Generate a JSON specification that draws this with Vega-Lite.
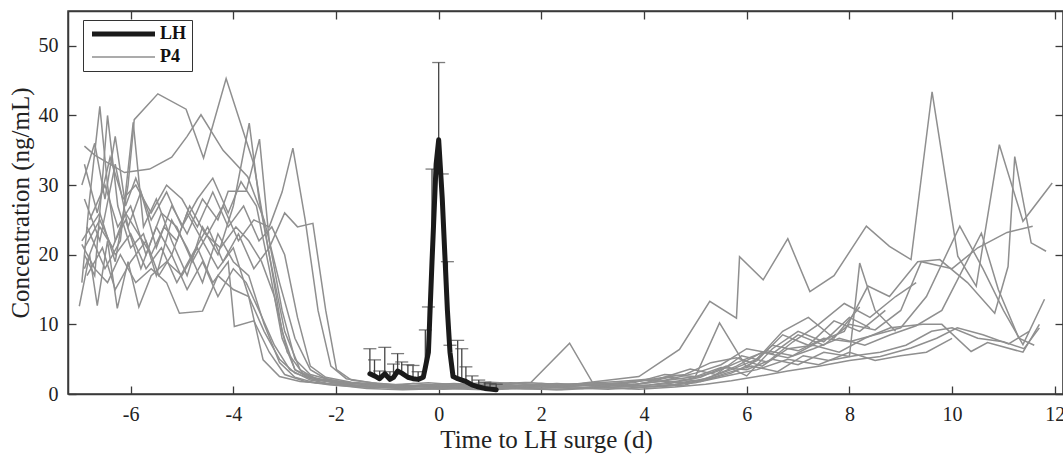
{
"$schema":"https://vega.github.io/schema/vega-lite/v6.json",
"width":995,"height":383,
"autosize":{"type":"none"},
"padding":{"left":68,"top":11,"right":0,"bottom":62},
"background":"white",
"config":{"view":{"stroke":"#3a3a3a","strokeWidth":1.5},"font":"Liberation Serif"},
"datasets":{
"lh":[
{"g":"LH","x":-1.34,"y":2.9,"up":6.5},{"g":"LH","x":-1.25,"y":2.6,"up":4.9},{"g":"LH","x":-1.15,"y":2.2,"up":3.3},{"g":"LH","x":-1.05,"y":2.9,"up":6.7},{"g":"LH","x":-0.95,"y":2.1,"up":3.2},{"g":"LH","x":-0.88,"y":2.4,"up":4.3},{"g":"LH","x":-0.8,"y":3.3,"up":5.8},{"g":"LH","x":-0.72,"y":3.0,"up":4.6},{"g":"LH","x":-0.6,"y":2.4,"up":4.2},{"g":"LH","x":-0.5,"y":2.2,"up":4.1},{"g":"LH","x":-0.4,"y":2.1,"up":3.2},{"g":"LH","x":-0.3,"y":2.4,"up":null},{"g":"LH","x":-0.26,"y":3.8,"up":9.2},{"g":"LH","x":-0.2,"y":6.0,"up":12.5},{"g":"LH","x":-0.13,"y":19,"up":32.3},{"g":"LH","x":-0.05,"y":33,"up":null},{"g":"LH","x":0,"y":36.5,"up":47.6},{"g":"LH","x":0.07,"y":28,"up":31.6},{"g":"LH","x":0.17,"y":12,"up":19.0},{"g":"LH","x":0.22,"y":6.0,"up":7.0},{"g":"LH","x":0.28,"y":2.5,"up":null},{"g":"LH","x":0.37,"y":2.2,"up":7.7},{"g":"LH","x":0.45,"y":2.0,"up":6.5},{"g":"LH","x":0.53,"y":1.8,"up":3.9},{"g":"LH","x":0.65,"y":1.3,"up":2.6},{"g":"LH","x":0.78,"y":1.0,"up":2.0},{"g":"LH","x":0.9,"y":0.8,"up":1.7},{"g":"LH","x":1.0,"y":0.7,"up":1.5},{"g":"LH","x":1.12,"y":0.6,"up":1.4}
],
"p4":[
{"g":"P4","s":"A","x":-6.95,"y":22},{"g":"P4","s":"A","x":-6.6,"y":26},{"g":"P4","s":"A","x":-6.3,"y":19},{"g":"P4","s":"A","x":-6.05,"y":30},{"g":"P4","s":"A","x":-5.93,"y":39.4},{"g":"P4","s":"A","x":-5.47,"y":43.1},{"g":"P4","s":"A","x":-4.92,"y":40.9},{"g":"P4","s":"A","x":-4.58,"y":33.9},{"g":"P4","s":"A","x":-4.14,"y":45.3},{"g":"P4","s":"A","x":-3.6,"y":33},{"g":"P4","s":"A","x":-3.3,"y":20},{"g":"P4","s":"A","x":-3.05,"y":9},{"g":"P4","s":"A","x":-2.8,"y":3.5},{"g":"P4","s":"A","x":-2.5,"y":2.2},{"g":"P4","s":"A","x":-1.6,"y":1.2},{"g":"P4","s":"A","x":-1.0,"y":1.0},{"g":"P4","s":"A","x":-0.3,"y":0.8},{"g":"P4","s":"A","x":0.5,"y":0.9},{"g":"P4","s":"A","x":1.3,"y":1.1},{"g":"P4","s":"A","x":2.0,"y":1.3},{"g":"P4","s":"A","x":2.8,"y":1.5},{"g":"P4","s":"A","x":3.5,"y":1.8},{"g":"P4","s":"A","x":4.2,"y":2.2},{"g":"P4","s":"A","x":4.8,"y":2.8},{"g":"P4","s":"A","x":5.3,"y":4.5},{"g":"P4","s":"A","x":5.8,"y":5.2},{"g":"P4","s":"A","x":6.3,"y":4},{"g":"P4","s":"A","x":6.8,"y":6.5},{"g":"P4","s":"A","x":7.3,"y":7},{"g":"P4","s":"A","x":7.8,"y":6},{"g":"P4","s":"A","x":8.3,"y":8},{"g":"P4","s":"A","x":8.8,"y":9.5},{"g":"P4","s":"A","x":9.43,"y":10},{"g":"P4","s":"A","x":9.8,"y":10},{"g":"P4","s":"A","x":10.37,"y":6.1},{"g":"P4","s":"A","x":10.69,"y":7.4},{"g":"P4","s":"A","x":11.38,"y":6.0},{"g":"P4","s":"A","x":11.7,"y":10},
{"g":"P4","s":"B","x":-6.9,"y":35.6},{"g":"P4","s":"B","x":-6.7,"y":34.3},{"g":"P4","s":"B","x":-6.12,"y":31.8},{"g":"P4","s":"B","x":-5.63,"y":32.3},{"g":"P4","s":"B","x":-5.2,"y":34},{"g":"P4","s":"B","x":-4.9,"y":37},{"g":"P4","s":"B","x":-4.63,"y":40.1},{"g":"P4","s":"B","x":-4.2,"y":35},{"g":"P4","s":"B","x":-3.72,"y":31.2},{"g":"P4","s":"B","x":-3.4,"y":25},{"g":"P4","s":"B","x":-3.1,"y":16},{"g":"P4","s":"B","x":-2.8,"y":8},{"g":"P4","s":"B","x":-2.5,"y":3.5},{"g":"P4","s":"B","x":-2.2,"y":2.2},{"g":"P4","s":"B","x":-1.8,"y":1.6},{"g":"P4","s":"B","x":-1.2,"y":1.4},{"g":"P4","s":"B","x":-0.5,"y":1.2},{"g":"P4","s":"B","x":0.3,"y":1.5},{"g":"P4","s":"B","x":1.0,"y":1.2},{"g":"P4","s":"B","x":1.8,"y":1.6},{"g":"P4","s":"B","x":2.5,"y":1.3},{"g":"P4","s":"B","x":3.2,"y":1.9},{"g":"P4","s":"B","x":3.9,"y":2.5},{"g":"P4","s":"B","x":4.69,"y":6.4},{"g":"P4","s":"B","x":5.28,"y":13.3},{"g":"P4","s":"B","x":5.8,"y":10.9},{"g":"P4","s":"B","x":5.86,"y":19.7},{"g":"P4","s":"B","x":6.32,"y":16.4},{"g":"P4","s":"B","x":6.8,"y":22.3},{"g":"P4","s":"B","x":7.23,"y":14.7},{"g":"P4","s":"B","x":7.7,"y":17},{"g":"P4","s":"B","x":8.33,"y":24.1},{"g":"P4","s":"B","x":8.78,"y":21.2},{"g":"P4","s":"B","x":9.2,"y":19.3},{"g":"P4","s":"B","x":9.61,"y":43.4},{"g":"P4","s":"B","x":10.11,"y":19.8},{"g":"P4","s":"B","x":10.47,"y":15.5},{"g":"P4","s":"B","x":10.92,"y":35.8},{"g":"P4","s":"B","x":11.38,"y":24.8},{"g":"P4","s":"B","x":11.95,"y":30.3},
{"g":"P4","s":"C","x":-6.95,"y":16},{"g":"P4","s":"C","x":-6.8,"y":28},{"g":"P4","s":"C","x":-6.6,"y":41.3},{"g":"P4","s":"C","x":-6.45,"y":30},{"g":"P4","s":"C","x":-6.3,"y":22},{"g":"P4","s":"C","x":-6.1,"y":25},{"g":"P4","s":"C","x":-5.8,"y":18},{"g":"P4","s":"C","x":-5.5,"y":24},{"g":"P4","s":"C","x":-5.2,"y":20},{"g":"P4","s":"C","x":-4.9,"y":26},{"g":"P4","s":"C","x":-4.6,"y":22},{"g":"P4","s":"C","x":-4.3,"y":18},{"g":"P4","s":"C","x":-4.0,"y":21},{"g":"P4","s":"C","x":-3.7,"y":14},{"g":"P4","s":"C","x":-3.42,"y":4.9},{"g":"P4","s":"C","x":-3.1,"y":2.5},{"g":"P4","s":"C","x":-2.7,"y":1.8},{"g":"P4","s":"C","x":-2.2,"y":1.5},{"g":"P4","s":"C","x":-1.5,"y":1.2},{"g":"P4","s":"C","x":-0.8,"y":0.9},{"g":"P4","s":"C","x":0,"y":1.2},{"g":"P4","s":"C","x":0.8,"y":1.4},{"g":"P4","s":"C","x":1.6,"y":1.2},{"g":"P4","s":"C","x":2.3,"y":1.5},{"g":"P4","s":"C","x":3.0,"y":1.2},{"g":"P4","s":"C","x":3.8,"y":1.6},{"g":"P4","s":"C","x":4.4,"y":2.8},{"g":"P4","s":"C","x":5.0,"y":2.5},{"g":"P4","s":"C","x":5.5,"y":3.8},{"g":"P4","s":"C","x":6.0,"y":3.5},{"g":"P4","s":"C","x":6.5,"y":5},{"g":"P4","s":"C","x":7.0,"y":4.2},{"g":"P4","s":"C","x":7.5,"y":6},{"g":"P4","s":"C","x":8.0,"y":5.4},{"g":"P4","s":"C","x":8.2,"y":18.8},{"g":"P4","s":"C","x":8.5,"y":12},{"g":"P4","s":"C","x":8.9,"y":9},
{"g":"P4","s":"D","x":-6.9,"y":20},{"g":"P4","s":"D","x":-6.7,"y":17},{"g":"P4","s":"D","x":-6.45,"y":40},{"g":"P4","s":"D","x":-6.25,"y":27},{"g":"P4","s":"D","x":-6.0,"y":21},{"g":"P4","s":"D","x":-5.75,"y":23},{"g":"P4","s":"D","x":-5.5,"y":17},{"g":"P4","s":"D","x":-5.2,"y":25},{"g":"P4","s":"D","x":-4.9,"y":21},{"g":"P4","s":"D","x":-4.6,"y":16},{"g":"P4","s":"D","x":-4.3,"y":23},{"g":"P4","s":"D","x":-4.0,"y":19},{"g":"P4","s":"D","x":-3.7,"y":17},{"g":"P4","s":"D","x":-3.4,"y":10},{"g":"P4","s":"D","x":-3.1,"y":4.5},{"g":"P4","s":"D","x":-2.8,"y":2.4},{"g":"P4","s":"D","x":-2.4,"y":1.6},{"g":"P4","s":"D","x":-1.9,"y":1.3},{"g":"P4","s":"D","x":-1.2,"y":0.9},{"g":"P4","s":"D","x":-0.5,"y":1.5},{"g":"P4","s":"D","x":0.3,"y":1.0},{"g":"P4","s":"D","x":1.1,"y":0.8},{"g":"P4","s":"D","x":1.9,"y":1.0},{"g":"P4","s":"D","x":2.6,"y":1.3},{"g":"P4","s":"D","x":3.4,"y":1.0},{"g":"P4","s":"D","x":4.1,"y":1.3},{"g":"P4","s":"D","x":4.8,"y":2.0},{"g":"P4","s":"D","x":5.4,"y":3.2},{"g":"P4","s":"D","x":5.9,"y":4.8},{"g":"P4","s":"D","x":6.4,"y":6.2},{"g":"P4","s":"D","x":6.9,"y":5.5},{"g":"P4","s":"D","x":7.4,"y":7.5},{"g":"P4","s":"D","x":7.9,"y":9},{"g":"P4","s":"D","x":8.36,"y":15.5},{"g":"P4","s":"D","x":8.78,"y":14},{"g":"P4","s":"D","x":9.33,"y":19},{"g":"P4","s":"D","x":9.76,"y":19.3},{"g":"P4","s":"D","x":10.3,"y":16},{"g":"P4","s":"D","x":10.83,"y":11.6},{"g":"P4","s":"D","x":11.09,"y":18.3},{"g":"P4","s":"D","x":11.22,"y":34.1},{"g":"P4","s":"D","x":11.54,"y":21.7},{"g":"P4","s":"D","x":11.83,"y":20.5},
{"g":"P4","s":"E","x":-6.85,"y":24},{"g":"P4","s":"E","x":-6.5,"y":18},{"g":"P4","s":"E","x":-6.2,"y":22},{"g":"P4","s":"E","x":-5.95,"y":39},{"g":"P4","s":"E","x":-5.75,"y":24},{"g":"P4","s":"E","x":-5.5,"y":28},{"g":"P4","s":"E","x":-5.2,"y":22},{"g":"P4","s":"E","x":-4.9,"y":17},{"g":"P4","s":"E","x":-4.6,"y":24},{"g":"P4","s":"E","x":-4.3,"y":20},{"g":"P4","s":"E","x":-4.0,"y":27},{"g":"P4","s":"E","x":-3.69,"y":38.9},{"g":"P4","s":"E","x":-3.5,"y":28},{"g":"P4","s":"E","x":-3.3,"y":20},{"g":"P4","s":"E","x":-3.0,"y":9},{"g":"P4","s":"E","x":-2.7,"y":3.5},{"g":"P4","s":"E","x":-2.4,"y":2.2},{"g":"P4","s":"E","x":-2.0,"y":1.6},{"g":"P4","s":"E","x":-1.4,"y":1.0},{"g":"P4","s":"E","x":-0.7,"y":0.8},{"g":"P4","s":"E","x":0.1,"y":0.7},{"g":"P4","s":"E","x":0.9,"y":1.0},{"g":"P4","s":"E","x":1.7,"y":0.8},{"g":"P4","s":"E","x":2.5,"y":0.9},{"g":"P4","s":"E","x":3.3,"y":0.7},{"g":"P4","s":"E","x":4.0,"y":1.0},{"g":"P4","s":"E","x":4.6,"y":1.4},{"g":"P4","s":"E","x":5.2,"y":2.0},{"g":"P4","s":"E","x":5.7,"y":3},{"g":"P4","s":"E","x":6.2,"y":4.8},{"g":"P4","s":"E","x":6.7,"y":8.5},{"g":"P4","s":"E","x":7.2,"y":7},{"g":"P4","s":"E","x":7.7,"y":10.5},{"g":"P4","s":"E","x":8.2,"y":9},{"g":"P4","s":"E","x":8.7,"y":12},
{"g":"P4","s":"F","x":-6.9,"y":28},{"g":"P4","s":"F","x":-6.6,"y":22},{"g":"P4","s":"F","x":-6.3,"y":33},{"g":"P4","s":"F","x":-6.05,"y":24},{"g":"P4","s":"F","x":-5.8,"y":29},{"g":"P4","s":"F","x":-5.5,"y":21},{"g":"P4","s":"F","x":-5.2,"y":27},{"g":"P4","s":"F","x":-4.9,"y":23},{"g":"P4","s":"F","x":-4.6,"y":28},{"g":"P4","s":"F","x":-4.3,"y":25},{"g":"P4","s":"F","x":-4.1,"y":29.1},{"g":"P4","s":"F","x":-3.75,"y":29.1},{"g":"P4","s":"F","x":-3.49,"y":36.6},{"g":"P4","s":"F","x":-3.3,"y":22},{"g":"P4","s":"F","x":-3.05,"y":12},{"g":"P4","s":"F","x":-2.8,"y":5},{"g":"P4","s":"F","x":-2.5,"y":2.8},{"g":"P4","s":"F","x":-2.1,"y":2.0},{"g":"P4","s":"F","x":-1.6,"y":1.5},{"g":"P4","s":"F","x":-1.0,"y":1.2},{"g":"P4","s":"F","x":-0.3,"y":1.0},{"g":"P4","s":"F","x":0.6,"y":1.3},{"g":"P4","s":"F","x":1.4,"y":1.6},{"g":"P4","s":"F","x":2.1,"y":1.1},{"g":"P4","s":"F","x":2.9,"y":1.4},{"g":"P4","s":"F","x":3.6,"y":1.2},{"g":"P4","s":"F","x":4.3,"y":1.8},{"g":"P4","s":"F","x":5.0,"y":3},{"g":"P4","s":"F","x":5.5,"y":4.2},{"g":"P4","s":"F","x":6.0,"y":6.5},{"g":"P4","s":"F","x":6.5,"y":5.8},{"g":"P4","s":"F","x":7.0,"y":8.5},{"g":"P4","s":"F","x":7.5,"y":7},{"g":"P4","s":"F","x":8.0,"y":10},{"g":"P4","s":"F","x":8.5,"y":9.2},{"g":"P4","s":"F","x":9.0,"y":12},{"g":"P4","s":"F","x":9.4,"y":19},{"g":"P4","s":"F","x":10.0,"y":18},{"g":"P4","s":"F","x":10.5,"y":21},{"g":"P4","s":"F","x":11.07,"y":23.2},{"g":"P4","s":"F","x":11.57,"y":24.1},
{"g":"P4","s":"G","x":-6.8,"y":25},{"g":"P4","s":"G","x":-6.5,"y":30},{"g":"P4","s":"G","x":-6.25,"y":24},{"g":"P4","s":"G","x":-6.0,"y":27},{"g":"P4","s":"G","x":-5.7,"y":20},{"g":"P4","s":"G","x":-5.4,"y":26},{"g":"P4","s":"G","x":-5.1,"y":24},{"g":"P4","s":"G","x":-4.8,"y":19},{"g":"P4","s":"G","x":-4.5,"y":23},{"g":"P4","s":"G","x":-4.2,"y":27},{"g":"P4","s":"G","x":-3.9,"y":22},{"g":"P4","s":"G","x":-3.6,"y":25},{"g":"P4","s":"G","x":-3.3,"y":24},{"g":"P4","s":"G","x":-3.05,"y":29},{"g":"P4","s":"G","x":-2.84,"y":35.3},{"g":"P4","s":"G","x":-2.6,"y":25},{"g":"P4","s":"G","x":-2.35,"y":12},{"g":"P4","s":"G","x":-2.1,"y":4},{"g":"P4","s":"G","x":-1.8,"y":2.2},{"g":"P4","s":"G","x":-1.3,"y":1.6},{"g":"P4","s":"G","x":-0.6,"y":1.2},{"g":"P4","s":"G","x":0.2,"y":0.9},{"g":"P4","s":"G","x":1.0,"y":1.4},{"g":"P4","s":"G","x":1.8,"y":1.7},{"g":"P4","s":"G","x":2.55,"y":7.3},{"g":"P4","s":"G","x":3.0,"y":1.6},{"g":"P4","s":"G","x":3.7,"y":1.3},{"g":"P4","s":"G","x":4.4,"y":1.9},{"g":"P4","s":"G","x":5.0,"y":2.5},{"g":"P4","s":"G","x":5.47,"y":10.2},{"g":"P4","s":"G","x":6.0,"y":3.8},{"g":"P4","s":"G","x":6.5,"y":7},{"g":"P4","s":"G","x":7.0,"y":6.2},{"g":"P4","s":"G","x":7.5,"y":8},{"g":"P4","s":"G","x":8.0,"y":7.5},{"g":"P4","s":"G","x":8.5,"y":8.5},{"g":"P4","s":"G","x":9.0,"y":9.5},{"g":"P4","s":"G","x":9.5,"y":14},{"g":"P4","s":"G","x":10.15,"y":24.1},{"g":"P4","s":"G","x":10.6,"y":18},{"g":"P4","s":"G","x":11.0,"y":12},{"g":"P4","s":"G","x":11.38,"y":7.1},{"g":"P4","s":"G","x":11.8,"y":13.6},
{"g":"P4","s":"H","x":-6.9,"y":21},{"g":"P4","s":"H","x":-6.6,"y":25},{"g":"P4","s":"H","x":-6.3,"y":20},{"g":"P4","s":"H","x":-6.0,"y":23},{"g":"P4","s":"H","x":-5.7,"y":18},{"g":"P4","s":"H","x":-5.4,"y":21},{"g":"P4","s":"H","x":-5.1,"y":16},{"g":"P4","s":"H","x":-4.8,"y":20},{"g":"P4","s":"H","x":-4.5,"y":24},{"g":"P4","s":"H","x":-4.2,"y":19},{"g":"P4","s":"H","x":-3.9,"y":23},{"g":"P4","s":"H","x":-3.6,"y":18},{"g":"P4","s":"H","x":-3.3,"y":21},{"g":"P4","s":"H","x":-3.0,"y":26},{"g":"P4","s":"H","x":-2.75,"y":24},{"g":"P4","s":"H","x":-2.45,"y":24.5},{"g":"P4","s":"H","x":-2.2,"y":12},{"g":"P4","s":"H","x":-1.99,"y":3.5},{"g":"P4","s":"H","x":-1.7,"y":2},{"g":"P4","s":"H","x":-1.2,"y":1.5},{"g":"P4","s":"H","x":-0.4,"y":1.1},{"g":"P4","s":"H","x":0.4,"y":0.8},{"g":"P4","s":"H","x":1.2,"y":1.0},{"g":"P4","s":"H","x":2.0,"y":1.5},{"g":"P4","s":"H","x":2.7,"y":1.2},{"g":"P4","s":"H","x":3.4,"y":1.5},{"g":"P4","s":"H","x":4.1,"y":2.0},{"g":"P4","s":"H","x":4.7,"y":1.6},{"g":"P4","s":"H","x":5.2,"y":2.2},{"g":"P4","s":"H","x":5.7,"y":3.5},{"g":"P4","s":"H","x":6.2,"y":5},{"g":"P4","s":"H","x":6.7,"y":9},{"g":"P4","s":"H","x":7.2,"y":11},{"g":"P4","s":"H","x":7.7,"y":8},{"g":"P4","s":"H","x":8.2,"y":12.5},
{"g":"P4","s":"I","x":-6.95,"y":21.5},{"g":"P4","s":"I","x":-6.7,"y":18},{"g":"P4","s":"I","x":-6.45,"y":16},{"g":"P4","s":"I","x":-6.2,"y":20},{"g":"P4","s":"I","x":-5.9,"y":16},{"g":"P4","s":"I","x":-5.6,"y":18},{"g":"P4","s":"I","x":-5.3,"y":16},{"g":"P4","s":"I","x":-5.05,"y":11.6},{"g":"P4","s":"I","x":-4.6,"y":11.9},{"g":"P4","s":"I","x":-4.3,"y":17},{"g":"P4","s":"I","x":-4.0,"y":15},{"g":"P4","s":"I","x":-3.7,"y":14},{"g":"P4","s":"I","x":-3.4,"y":9},{"g":"P4","s":"I","x":-3.1,"y":5},{"g":"P4","s":"I","x":-2.8,"y":3},{"g":"P4","s":"I","x":-2.4,"y":2},{"g":"P4","s":"I","x":-1.9,"y":1.6},{"g":"P4","s":"I","x":-1.3,"y":1.3},{"g":"P4","s":"I","x":-0.6,"y":1.0},{"g":"P4","s":"I","x":0.2,"y":1.3},{"g":"P4","s":"I","x":1.0,"y":1.7},{"g":"P4","s":"I","x":1.7,"y":1.4},{"g":"P4","s":"I","x":2.4,"y":1.0},{"g":"P4","s":"I","x":3.1,"y":1.5},{"g":"P4","s":"I","x":3.8,"y":1.3},{"g":"P4","s":"I","x":4.5,"y":2.4},{"g":"P4","s":"I","x":5.1,"y":1.8},{"g":"P4","s":"I","x":5.6,"y":3},{"g":"P4","s":"I","x":6.1,"y":4},{"g":"P4","s":"I","x":6.6,"y":3.2},{"g":"P4","s":"I","x":7.1,"y":5.5},{"g":"P4","s":"I","x":7.6,"y":4.8},{"g":"P4","s":"I","x":8.1,"y":5.5},{"g":"P4","s":"I","x":8.6,"y":6},{"g":"P4","s":"I","x":9.1,"y":7},{"g":"P4","s":"I","x":9.6,"y":9},{"g":"P4","s":"I","x":10.0,"y":9.5},{"g":"P4","s":"I","x":10.5,"y":8},{"g":"P4","s":"I","x":11.0,"y":7.5},{"g":"P4","s":"I","x":11.4,"y":6.5},{"g":"P4","s":"I","x":11.7,"y":9.5},
{"g":"P4","s":"J","x":-7.0,"y":12.6},{"g":"P4","s":"J","x":-6.8,"y":20},{"g":"P4","s":"J","x":-6.65,"y":12.7},{"g":"P4","s":"J","x":-6.45,"y":22},{"g":"P4","s":"J","x":-6.26,"y":12.3},{"g":"P4","s":"J","x":-6.05,"y":19},{"g":"P4","s":"J","x":-5.84,"y":12.5},{"g":"P4","s":"J","x":-5.6,"y":17},{"g":"P4","s":"J","x":-5.3,"y":19},{"g":"P4","s":"J","x":-5.0,"y":17},{"g":"P4","s":"J","x":-4.7,"y":21},{"g":"P4","s":"J","x":-4.4,"y":16},{"g":"P4","s":"J","x":-4.1,"y":19},{"g":"P4","s":"J","x":-3.98,"y":9.7},{"g":"P4","s":"J","x":-3.6,"y":10.5},{"g":"P4","s":"J","x":-3.3,"y":6},{"g":"P4","s":"J","x":-3.0,"y":2.8},{"g":"P4","s":"J","x":-2.6,"y":1.8},{"g":"P4","s":"J","x":-2.1,"y":1.3},{"g":"P4","s":"J","x":-1.5,"y":1.0},{"g":"P4","s":"J","x":-0.8,"y":1.3},{"g":"P4","s":"J","x":0,"y":0.9},{"g":"P4","s":"J","x":0.8,"y":1.1},{"g":"P4","s":"J","x":1.5,"y":0.8},{"g":"P4","s":"J","x":2.3,"y":0.6},{"g":"P4","s":"J","x":3.0,"y":1.0},{"g":"P4","s":"J","x":3.7,"y":0.8},{"g":"P4","s":"J","x":4.4,"y":1.2},{"g":"P4","s":"J","x":5.0,"y":1.6},{"g":"P4","s":"J","x":5.6,"y":2.6},{"g":"P4","s":"J","x":6.2,"y":3.5},{"g":"P4","s":"J","x":6.8,"y":5},{"g":"P4","s":"J","x":7.4,"y":4.2},{"g":"P4","s":"J","x":8.0,"y":6},{"g":"P4","s":"J","x":8.5,"y":4.8},{"g":"P4","s":"J","x":9.0,"y":5.5},{"g":"P4","s":"J","x":9.5,"y":6},{"g":"P4","s":"J","x":10.0,"y":8},
{"g":"P4","s":"K","x":-6.95,"y":30},{"g":"P4","s":"K","x":-6.7,"y":36},{"g":"P4","s":"K","x":-6.5,"y":28},{"g":"P4","s":"K","x":-6.3,"y":37},{"g":"P4","s":"K","x":-6.1,"y":27},{"g":"P4","s":"K","x":-5.9,"y":31},{"g":"P4","s":"K","x":-5.6,"y":25},{"g":"P4","s":"K","x":-5.3,"y":29},{"g":"P4","s":"K","x":-5.0,"y":24},{"g":"P4","s":"K","x":-4.7,"y":28},{"g":"P4","s":"K","x":-4.4,"y":31},{"g":"P4","s":"K","x":-4.1,"y":26},{"g":"P4","s":"K","x":-3.85,"y":30.5},{"g":"P4","s":"K","x":-3.55,"y":27},{"g":"P4","s":"K","x":-3.3,"y":18},{"g":"P4","s":"K","x":-3.05,"y":8},{"g":"P4","s":"K","x":-2.8,"y":3.5},{"g":"P4","s":"K","x":-2.5,"y":2.4},{"g":"P4","s":"K","x":-2.0,"y":1.8},{"g":"P4","s":"K","x":-1.4,"y":1.4},{"g":"P4","s":"K","x":-0.7,"y":1.1},{"g":"P4","s":"K","x":0.1,"y":1.4},{"g":"P4","s":"K","x":0.9,"y":1.1},{"g":"P4","s":"K","x":1.6,"y":1.0},{"g":"P4","s":"K","x":2.3,"y":1.2},{"g":"P4","s":"K","x":3.0,"y":0.9},{"g":"P4","s":"K","x":3.8,"y":1.1},{"g":"P4","s":"K","x":4.5,"y":1.5},{"g":"P4","s":"K","x":5.1,"y":2.4},{"g":"P4","s":"K","x":5.6,"y":4},{"g":"P4","s":"K","x":6.0,"y":2.6},{"g":"P4","s":"K","x":6.5,"y":6.5},{"g":"P4","s":"K","x":7.0,"y":9},{"g":"P4","s":"K","x":7.5,"y":7.5},{"g":"P4","s":"K","x":8.0,"y":11},{"g":"P4","s":"K","x":8.4,"y":9.5},
{"g":"P4","s":"L","x":-6.9,"y":18},{"g":"P4","s":"L","x":-6.6,"y":24},{"g":"P4","s":"L","x":-6.35,"y":21},{"g":"P4","s":"L","x":-6.1,"y":26},{"g":"P4","s":"L","x":-5.85,"y":23},{"g":"P4","s":"L","x":-5.6,"y":20},{"g":"P4","s":"L","x":-5.35,"y":24},{"g":"P4","s":"L","x":-5.1,"y":22},{"g":"P4","s":"L","x":-4.85,"y":27},{"g":"P4","s":"L","x":-4.55,"y":23},{"g":"P4","s":"L","x":-4.25,"y":21},{"g":"P4","s":"L","x":-3.95,"y":24},{"g":"P4","s":"L","x":-3.7,"y":22},{"g":"P4","s":"L","x":-3.45,"y":19},{"g":"P4","s":"L","x":-3.2,"y":14},{"g":"P4","s":"L","x":-2.95,"y":6},{"g":"P4","s":"L","x":-2.65,"y":3},{"g":"P4","s":"L","x":-2.3,"y":2},{"g":"P4","s":"L","x":-1.9,"y":1.4},{"g":"P4","s":"L","x":-1.3,"y":1.1},{"g":"P4","s":"L","x":-0.5,"y":0.7},{"g":"P4","s":"L","x":0.3,"y":1.0},{"g":"P4","s":"L","x":1.2,"y":1.3},{"g":"P4","s":"L","x":2.0,"y":1.0},{"g":"P4","s":"L","x":2.8,"y":0.8},{"g":"P4","s":"L","x":3.5,"y":1.4},{"g":"P4","s":"L","x":4.2,"y":1.0},{"g":"P4","s":"L","x":4.8,"y":1.3},{"g":"P4","s":"L","x":5.3,"y":2.5},{"g":"P4","s":"L","x":5.8,"y":4},{"g":"P4","s":"L","x":6.3,"y":6},{"g":"P4","s":"L","x":6.8,"y":5.2},{"g":"P4","s":"L","x":7.3,"y":6.5},{"g":"P4","s":"L","x":7.8,"y":8},{"g":"P4","s":"L","x":8.3,"y":7},{"g":"P4","s":"L","x":8.8,"y":8.5},{"g":"P4","s":"L","x":9.3,"y":9.8},{"g":"P4","s":"L","x":9.8,"y":12},{"g":"P4","s":"L","x":10.57,"y":23.1},{"g":"P4","s":"L","x":10.9,"y":15},{"g":"P4","s":"L","x":11.3,"y":8},{"g":"P4","s":"L","x":11.6,"y":7},
{"g":"P4","s":"M","x":-6.9,"y":33},{"g":"P4","s":"M","x":-6.65,"y":26},{"g":"P4","s":"M","x":-6.4,"y":34},{"g":"P4","s":"M","x":-6.15,"y":28},{"g":"P4","s":"M","x":-5.9,"y":30},{"g":"P4","s":"M","x":-5.6,"y":26},{"g":"P4","s":"M","x":-5.3,"y":30},{"g":"P4","s":"M","x":-5.0,"y":28},{"g":"P4","s":"M","x":-4.7,"y":24},{"g":"P4","s":"M","x":-4.4,"y":29},{"g":"P4","s":"M","x":-4.1,"y":24},{"g":"P4","s":"M","x":-3.8,"y":27},{"g":"P4","s":"M","x":-3.5,"y":22},{"g":"P4","s":"M","x":-3.25,"y":24},{"g":"P4","s":"M","x":-3.0,"y":20},{"g":"P4","s":"M","x":-2.75,"y":11},{"g":"P4","s":"M","x":-2.5,"y":4},{"g":"P4","s":"M","x":-2.2,"y":2.4},{"g":"P4","s":"M","x":-1.7,"y":1.7},{"g":"P4","s":"M","x":-1.0,"y":1.3},{"g":"P4","s":"M","x":-0.2,"y":1.6},{"g":"P4","s":"M","x":0.6,"y":1.2},{"g":"P4","s":"M","x":1.4,"y":0.9},{"g":"P4","s":"M","x":2.2,"y":1.1},{"g":"P4","s":"M","x":2.9,"y":1.4},{"g":"P4","s":"M","x":3.6,"y":1.6},{"g":"P4","s":"M","x":4.3,"y":2.2},{"g":"P4","s":"M","x":4.9,"y":3.6},{"g":"P4","s":"M","x":5.4,"y":2.8},{"g":"P4","s":"M","x":5.9,"y":5.5},{"g":"P4","s":"M","x":6.4,"y":4.6},{"g":"P4","s":"M","x":6.9,"y":7.5},{"g":"P4","s":"M","x":7.4,"y":10},{"g":"P4","s":"M","x":7.9,"y":13},{"g":"P4","s":"M","x":8.4,"y":11},{"g":"P4","s":"M","x":8.9,"y":14},{"g":"P4","s":"M","x":9.3,"y":16},
{"g":"P4","s":"N","x":-6.85,"y":17},{"g":"P4","s":"N","x":-6.55,"y":21},{"g":"P4","s":"N","x":-6.3,"y":15},{"g":"P4","s":"N","x":-6.0,"y":19},{"g":"P4","s":"N","x":-5.7,"y":22},{"g":"P4","s":"N","x":-5.45,"y":17},{"g":"P4","s":"N","x":-5.2,"y":20},{"g":"P4","s":"N","x":-4.9,"y":15},{"g":"P4","s":"N","x":-4.6,"y":19},{"g":"P4","s":"N","x":-4.3,"y":14},{"g":"P4","s":"N","x":-4.0,"y":18},{"g":"P4","s":"N","x":-3.75,"y":16},{"g":"P4","s":"N","x":-3.5,"y":12},{"g":"P4","s":"N","x":-3.2,"y":7},{"g":"P4","s":"N","x":-2.9,"y":3.5},{"g":"P4","s":"N","x":-2.5,"y":2.0},{"g":"P4","s":"N","x":-2.0,"y":1.3},{"g":"P4","s":"N","x":-1.4,"y":0.8},{"g":"P4","s":"N","x":-0.7,"y":0.6},{"g":"P4","s":"N","x":0.1,"y":0.8},{"g":"P4","s":"N","x":0.9,"y":0.6},{"g":"P4","s":"N","x":1.7,"y":0.8},{"g":"P4","s":"N","x":2.4,"y":0.6},{"g":"P4","s":"N","x":3.2,"y":0.9},{"g":"P4","s":"N","x":3.9,"y":0.7},{"g":"P4","s":"N","x":4.6,"y":1.0},{"g":"P4","s":"N","x":5.2,"y":1.4},{"g":"P4","s":"N","x":5.7,"y":1.9},{"g":"P4","s":"N","x":6.2,"y":2.5},{"g":"P4","s":"N","x":6.8,"y":3.3},{"g":"P4","s":"N","x":7.4,"y":4},{"g":"P4","s":"N","x":8.0,"y":4.8},{"g":"P4","s":"N","x":8.6,"y":5.4},{"g":"P4","s":"N","x":9.2,"y":6.6},{"g":"P4","s":"N","x":9.7,"y":8},{"g":"P4","s":"N","x":10.1,"y":9.5},{"g":"P4","s":"N","x":10.6,"y":8.5},{"g":"P4","s":"N","x":11.1,"y":7.2},{"g":"P4","s":"N","x":11.5,"y":9}
]
},
"layer":[
{"data":{"name":"p4"},
 "mark":{"type":"line","strokeJoin":"miter","clip":true},
 "encoding":{
  "x":{"field":"x","type":"quantitative","scale":{"domain":[-7.22,12.16],"nice":false,"zero":false},
   "axis":{"orient":"bottom","values":[-6,-4,-2,0,2,4,6,8,10,12],"labelExpr":"datum.value < 0 ? '-' + abs(datum.value) : '' + datum.value","grid":false,"title":"Time to LH surge (d)","titleFont":"Liberation Serif","titleFontSize":25,"titleFontWeight":"normal","titleColor":"#222","titleX":478,"titleY":53,"titleAlign":"center","titleBaseline":"alphabetic","labelFont":"Liberation Serif","labelFontSize":20,"labelColor":"#222","labelPadding":18,"labelFlush":false,"labelOverlap":false,"tickSize":-8,"tickColor":"#3a3a3a","tickWidth":1.3,"domainColor":"#3a3a3a","domainWidth":1.5}},
  "y":{"field":"y","type":"quantitative","scale":{"domain":[0,55],"nice":false},
   "axis":{"orient":"left","values":[0,10,20,30,40,50],"grid":false,"title":"Concentration (ng/mL)","titleFont":"Liberation Serif","titleFontSize":25,"titleFontWeight":"normal","titleColor":"#222","titleAngle":-90,"titleX":-40,"titleY":191.5,"titleAlign":"center","titleBaseline":"alphabetic","labelFont":"Liberation Serif","labelFontSize":20,"labelColor":"#222","labelPadding":18,"labelFlush":false,"labelOverlap":false,"tickSize":-8,"tickColor":"#3a3a3a","tickWidth":1.3,"domainColor":"#3a3a3a","domainWidth":1.5}},
  "detail":{"field":"s","type":"nominal"},
  "color":{"field":"g","type":"nominal","scale":{"domain":["LH","P4"],"range":["#1a1a1a","#8f8f8f"]},
   "legend":{"orient":"none","legendX":15,"legendY":9,"title":null,"symbolType":"M-1,0H11.6","symbolSize":100,"labelFont":"Liberation Serif","labelFontSize":18,"labelFontWeight":"bold","labelColor":"#111","strokeColor":"#333","fillColor":"white","padding":5,"rowPadding":4,"labelOffset":54}},
  "strokeWidth":{"field":"g","type":"nominal","scale":{"domain":["LH","P4"],"range":[5,1.5]},
   "legend":{"orient":"none","legendX":15,"legendY":9,"title":null,"symbolType":"M-1,0H11.6","symbolSize":100,"labelFont":"Liberation Serif","labelFontSize":18,"labelFontWeight":"bold","labelColor":"#111","strokeColor":"#333","fillColor":"white","padding":5,"rowPadding":4,"labelOffset":54}}
 }},
{"data":{"name":"lh"},
 "transform":[{"filter":"datum.up != null"}],
 "mark":{"type":"rule","color":"#444","strokeWidth":1.3},
 "encoding":{"x":{"field":"x","type":"quantitative","axis":null},"y":{"field":"y","type":"quantitative","axis":null},"y2":{"field":"up"}}},
{"data":{"name":"lh"},
 "transform":[{"filter":"datum.up != null"}],
 "mark":{"type":"tick","orient":"horizontal","color":"#444","size":13,"thickness":1.3},
 "encoding":{"x":{"field":"x","type":"quantitative","axis":null},"y":{"field":"up","type":"quantitative","axis":null}}},
{"data":{"name":"lh"},
 "mark":{"type":"line","strokeJoin":"round","strokeCap":"round"},
 "encoding":{
  "x":{"field":"x","type":"quantitative","axis":{"orient":"top","values":[-6,-4,-2,0,2,4,6,8,10,12],"labels":false,"title":null,"grid":false,"tickSize":-8,"tickColor":"#3a3a3a","tickWidth":1.3,"domainColor":"#3a3a3a","domainWidth":1.5}},
  "y":{"field":"y","type":"quantitative","axis":{"orient":"right","values":[0,10,20,30,40,50],"labels":false,"title":null,"grid":false,"tickSize":-8,"tickColor":"#3a3a3a","tickWidth":1.3,"domainColor":"#3a3a3a","domainWidth":1.5}},
  "color":{"field":"g","type":"nominal","scale":{"domain":["LH","P4"],"range":["#1a1a1a","#8f8f8f"]},
   "legend":{"orient":"none","legendX":15,"legendY":9,"title":null,"symbolType":"M-1,0H11.6","symbolSize":100,"labelFont":"Liberation Serif","labelFontSize":18,"labelFontWeight":"bold","labelColor":"#111","strokeColor":"#333","fillColor":"white","padding":5,"rowPadding":4,"labelOffset":54}},
  "strokeWidth":{"field":"g","type":"nominal","scale":{"domain":["LH","P4"],"range":[5,1.5]},
   "legend":{"orient":"none","legendX":15,"legendY":9,"title":null,"symbolType":"M-1,0H11.6","symbolSize":100,"labelFont":"Liberation Serif","labelFontSize":18,"labelFontWeight":"bold","labelColor":"#111","strokeColor":"#333","fillColor":"white","padding":5,"rowPadding":4,"labelOffset":54}}
 }}
],
"resolve":{"axis":{"x":"independent","y":"independent"}}
}
